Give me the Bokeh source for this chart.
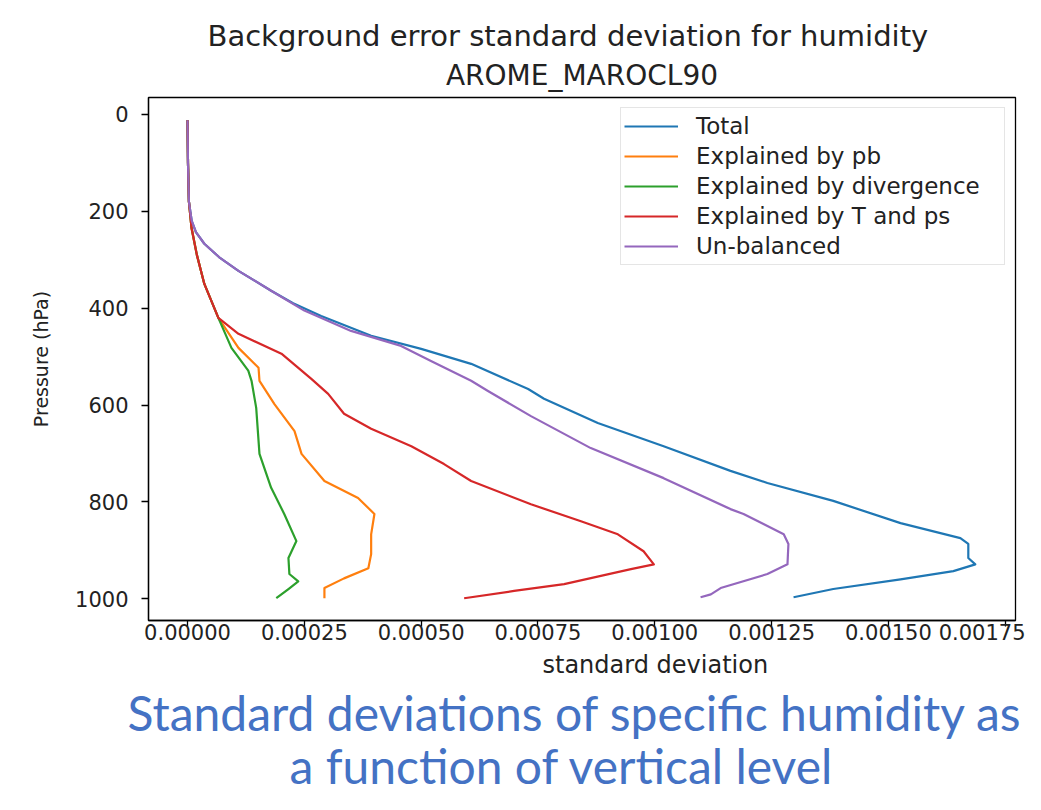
from bokeh.plotting import figure
from bokeh.models import Range1d, FixedTicker, NumeralTickFormatter, Title, Legend, LegendItem
from bokeh.embed import file_html
from bokeh.resources import INLINE

# ---------------- data ----------------
title_lines = ["Background error standard deviation for humidity", "AROME_MAROCL90"]
caption_lines = ["Standard deviations of specific humidity as", "a function of vertical level"]
x_label = "standard deviation"
y_label = "Pressure (hPa)"
x_ticks = [0.0, 0.00025, 0.0005, 0.00075, 0.001, 0.00125, 0.0015, 0.00175]
y_ticks = [0, 200, 400, 600, 800, 1000]

series_names = ["Total", "Explained by pb", "Explained by divergence",
                "Explained by T and ps", "Un-balanced"]
series_colors = ["#1f77b4", "#ff7f0e", "#2ca02c", "#d62728", "#9467bd"]

# pressure levels (hPa) and standard deviations (in units of 1e-5)
total_p = [12, 100, 180, 220, 243, 267, 295, 323, 364, 390, 416, 457, 484, 515, 567, 587, 637, 685,
           736, 761, 798, 844, 875, 887, 916, 929, 943, 960, 980, 997]
total_v = [0.0, 0.1, 0.3, 0.9, 1.8, 3.6, 6.8, 10.9, 17.9, 22.6, 28.6, 39.3, 50.0, 60.7, 72.9, 76.3, 87.8, 101.9,
           116.2, 124.1, 138.2, 152.6, 165.4, 167.1, 167.1, 168.6, 163.9, 152.6, 138.2, 129.7]

pb_p = [12, 100, 180, 234, 290, 350, 420, 482, 523, 550, 598, 654, 701, 757, 792, 825,
        867, 908, 937, 958, 978, 999]
pb_v = [0.0, 0.1, 0.3, 0.85, 2.0, 3.6, 6.6, 10.9, 15.2, 15.4, 18.6, 22.9, 24.4, 29.3, 36.5, 40.0,
        39.3, 39.3, 38.7, 33.5, 29.3, 29.3]

div_p = [12, 100, 180, 234, 290, 350, 420, 482, 529, 550, 606, 701, 771, 825, 881, 916,
         949, 964, 980, 999]
div_v = [0.0, 0.1, 0.3, 0.85, 2.0, 3.6, 6.6, 9.4, 13.0, 13.7, 14.7, 15.4, 17.9, 20.7, 23.3, 21.6,
         21.8, 23.7, 21.6, 19.0]

tps_p = [12, 100, 180, 234, 290, 350, 420, 453, 494, 546, 577, 618, 649, 685, 722, 757,
         805, 840, 867, 902, 929, 939, 970, 984, 999]
tps_v = [0.0, 0.1, 0.3, 0.85, 2.0, 3.6, 6.6, 10.9, 20.1, 26.5, 30.1, 33.5, 39.3, 47.9, 54.9, 60.7,
         73.5, 84.2, 92.1, 97.6, 99.8, 94.9, 80.6, 69.9, 59.2]

unb_p = [12, 100, 180, 220, 243, 267, 295, 323, 364, 405, 447, 478, 509, 550, 571, 623, 689,
         751, 815, 825, 867, 887, 929, 949, 978, 991, 997]
unb_v = [0.0, 0.1, 0.3, 0.9, 1.8, 3.6, 6.8, 10.9, 17.9, 25.0, 35.0, 45.7, 52.1, 60.7, 64.3, 73.5, 86.3,
         101.9, 116.2, 119.0, 127.6, 128.6, 128.4, 124.1, 114.1, 112.0, 109.8]

value_scale = 1e-5  # values above are in units of 1e-5

series_p = [total_p, pb_p, div_p, tps_p, unb_p]
series_v = [total_v, pb_v, div_v, tps_v, unb_v]

# ---------------- figure ----------------
FONT = "DejaVu Sans"
TXT = "#222222"

p = figure(width=1025, height=794, output_backend="svg", toolbar_location=None,
           x_range=Range1d(-0.0000835, 0.001772), y_range=Range1d(1045, -35),
           min_border_left=148, min_border_right=10, min_border_top=97, min_border_bottom=174,
           title=None)

p.xgrid.visible = False
p.ygrid.visible = False
p.outline_line_color = "black"
p.outline_line_width = 1.3
p.background_fill_color = "white"
p.border_fill_color = "white"

items = []
for name, color, pp, vv in zip(series_names, series_colors, series_p, series_v):
    r = p.line([v * value_scale for v in vv], pp, line_color=color, line_width=2.2,
               line_join="round")
    items.append(LegendItem(label=name, renderers=[r]))

legend = Legend(items=items, location="top_right")
legend.margin = 10
legend.padding = 3
legend.spacing = 0
legend.label_height = 30
legend.glyph_height = 30
legend.glyph_width = 54
legend.label_standoff = 18
legend.label_width = 305
legend.label_text_font = FONT
legend.label_text_font_size = "23px"
legend.label_text_color = TXT
legend.border_line_color = "#cccccc"
legend.border_line_width = 1
legend.background_fill_alpha = 0.8
p.add_layout(legend)

# axes
p.xaxis.ticker = FixedTicker(ticks=x_ticks)
p.xaxis.formatter = NumeralTickFormatter(format="0.00000")
p.yaxis.ticker = FixedTicker(ticks=y_ticks)
for ax in (p.xaxis[0], p.yaxis[0]):
    ax.major_label_text_font = FONT
    ax.major_label_text_font_size = "21px"
    ax.major_label_text_color = TXT
    ax.axis_line_color = "black"
    ax.axis_line_width = 1.3
    ax.major_tick_line_color = "black"
    ax.major_tick_line_width = 1.3
    ax.major_tick_in = 0
    ax.minor_tick_line_color = None
p.xaxis.major_tick_out = 6
p.xaxis.major_label_standoff = -3
p.yaxis.major_tick_out = 7
p.yaxis.major_label_standoff = 13

p.yaxis.axis_label = y_label
p.yaxis.axis_label_text_font = FONT
p.yaxis.axis_label_text_font_size = "19px"
p.yaxis.axis_label_text_font_style = "normal"
p.yaxis.axis_label_text_color = TXT
p.yaxis.axis_label_standoff = 20

# titles above (inner line first)
p.add_layout(Title(text=title_lines[1], align="center", text_font=FONT, text_font_size="28px",
                   text_font_style="normal", text_color=TXT, standoff=12), "above")
p.add_layout(Title(text=title_lines[0], align="left", text_font=FONT, text_font_size="29px",
                   text_font_style="normal", text_color=TXT, offset=59, standoff=-4), "above")

# x label and caption below
p.add_layout(Title(text=x_label, align="left", text_font=FONT, text_font_size="24px",
                   text_font_style="normal", text_color=TXT, offset=394, standoff=13), "below")
p.add_layout(Title(text=caption_lines[0], align="left", text_font="Lato", text_font_size="48px",
                   text_font_style="normal", text_color="#4472C4", offset=-21, standoff=-7), "below")
p.add_layout(Title(text=caption_lines[1], align="left", text_font="Lato", text_font_size="48px",
                   text_font_style="normal", text_color="#4472C4", offset=141, standoff=-6), "below")

open("out.html", "w").write(file_html(p, INLINE))
